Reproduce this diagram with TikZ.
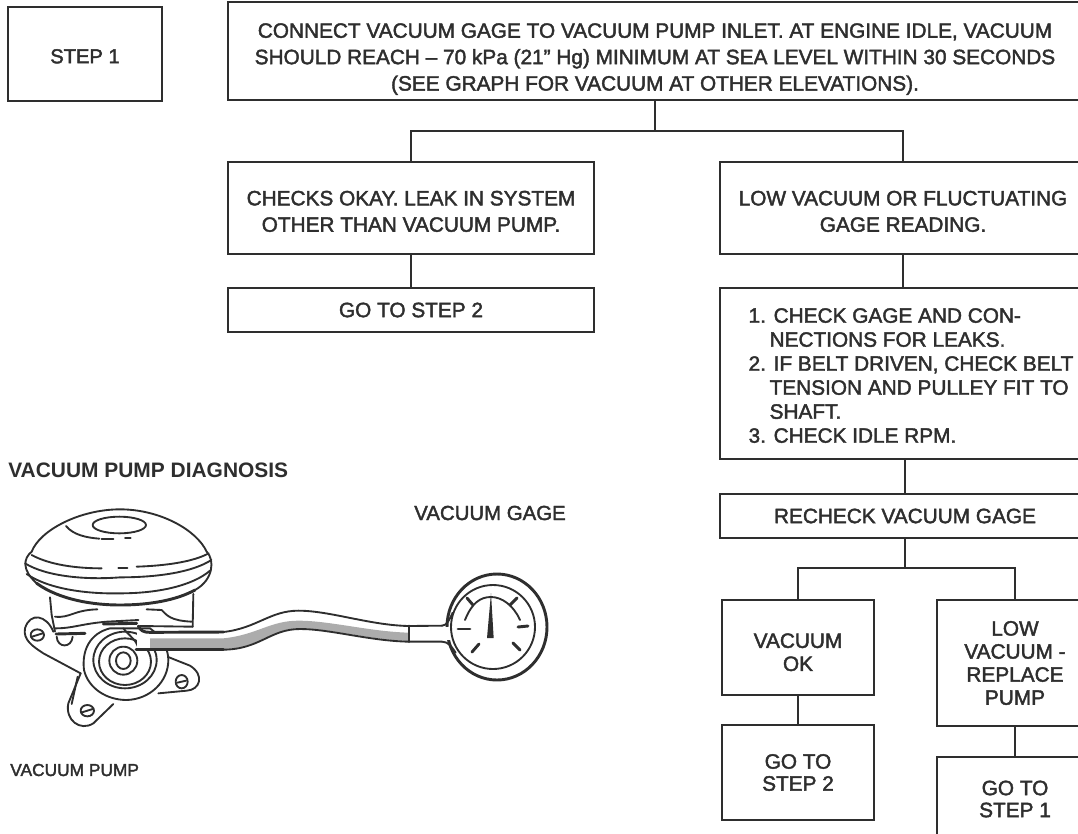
\documentclass[tikz,border=0pt]{standalone}
\usepackage{fontspec}
\setmainfont{Liberation Sans}[UprightFeatures={FakeBold=2}]
\newfontfamily\headfont{Liberation Sans Bold}
\usetikzlibrary{positioning}
\definecolor{ink}{HTML}{2E2E2E}
\tikzset{
  flowbox/.style={draw=ink, line width=2.2pt, align=center, inner sep=0pt, text=ink,
    font=\fontsize{15.6}{19.8}\selectfont},
  boxsize/.style 2 args={minimum width=#1*0.75pt, minimum height=#2*0.75pt},
  link/.style={draw=ink, line width=2.2pt},
  caption/.style={text=ink, inner sep=0pt, anchor=west, font=\fontsize{15.3}{18}\selectfont},
  pumpline/.style={draw=ink, line width=1.4pt, line cap=round, line join=round},
  pumpheavy/.style={draw=ink, line width=2.2pt, line cap=round}
}
\begin{document}
\begin{tikzpicture}[x=0.75pt, y=-0.75pt]
  \useasboundingbox (0,0) rectangle (1078,833);
  % Flow chart
  \node[flowbox, boxsize={154}{94}, font=\fontsize{15.1}{18}\selectfont] (step) at (85,54) {\rule{0pt}{14pt}STEP 1};
  \node[flowbox, boxsize={854}{98}] (inlet) at (655,51) {\rule{0pt}{23pt}CONNECT VACUUM GAGE TO VACUUM PUMP INLET. AT ENGINE IDLE, VACUUM\\
    SHOULD REACH\ -- 70 kPa (21'' Hg) MINIMUM AT SEA LEVEL WITHIN 30 SECONDS\\
    (SEE GRAPH FOR VACUUM AT OTHER ELEVATIONS).};
  \node[flowbox, boxsize={366}{92}] (okay) at (411,208) {\rule{0pt}{16pt}CHECKS OKAY. LEAK IN SYSTEM\\OTHER THAN VACUUM PUMP.};
  \node[flowbox, boxsize={366}{44}] (gotwo) at (411,310) {GO TO STEP 2};
  \node[flowbox, boxsize={366}{92}] (low) at (903,208) {\rule{0pt}{16pt}LOW VACUUM OR FLUCTUATING\\GAGE READING.};
  \node[flowbox, boxsize={370}{171}, align=left, font=\fontsize{15.6}{18}\selectfont] (checks) at (905,373.5) {\hspace*{9pt}\rule{0pt}{14pt}1. CHECK GAGE AND CON-\\
    \hspace*{24.75pt}NECTIONS FOR LEAKS.\\
    \hspace*{9pt}2. IF BELT DRIVEN, CHECK BELT\\
    \hspace*{24.75pt}TENSION AND PULLEY FIT TO\\
    \hspace*{24.75pt}SHAFT.\\
    \hspace*{9pt}3. CHECK IDLE RPM.};
  \node[flowbox, boxsize={370}{44}] (recheck) at (905,516) {RECHECK VACUUM GAGE};
  \node[flowbox, boxsize={152}{95}, font=\fontsize{15.6}{17.3}\selectfont] (vacok) at (798,647.5) {\rule{0pt}{18pt}VACUUM\\OK};
  \node[flowbox, boxsize={152}{95}, font=\fontsize{15.6}{16.5}\selectfont] (stwo) at (798,772.5) {GO TO\\STEP 2};
  \node[flowbox, boxsize={156}{126}, font=\fontsize{15.6}{17.3}\selectfont] (lowvac) at (1015,663) {LOW\\VACUUM -\\REPLACE\\PUMP};
  \node[flowbox, boxsize={156}{84}, font=\fontsize{15.6}{16.5}\selectfont] (sone) at (1015,799) {GO TO\\STEP 1};
  \coordinate (forktop) at (655,131);
  \coordinate (forklow) at (905,568);
  \draw[link] (inlet.south) -- (forktop);
  \draw[link] (okay.north) |- (forktop) -| (low.north);
  \draw[link] (okay.south) -- (gotwo.north);
  \draw[link] (low.south) -- (checks.north -| low.south);
  \draw[link] (checks.south) -- (recheck.north);
  \draw[link] (recheck.south) -- (forklow);
  \draw[link] (vacok.north) |- (forklow) -| (lowvac.north);
  \draw[link] (vacok.south) -- (stwo.north);
  \draw[link] (lowvac.south) -- (sone.north);
  % Labels
  \node[caption, font=\headfont\fontsize{15.7}{18}\selectfont] (title) at (8,470) {VACUUM PUMP DIAGNOSIS};
  \node[caption] (gagelabel) at (414,513) {VACUUM GAGE};
  \node[caption, font=\fontsize{13}{15}\selectfont] (pumplabel) at (10,770) {VACUUM PUMP};
  % Pump and gage, third-of-a-pixel units
  \begin{scope}[shift={(10,500)}, x=0.25pt, y=-0.25pt]
    % cover
    \draw[pumpline] (65,155) .. controls (90,90) and (210,28) .. (330,28) .. controls (450,28) and (560,90) .. (590,155);
    \draw[pumpline] (328,75) ellipse (80 and 25);
    \draw[pumpline] (168,78) .. controls (190,105) and (230,113) .. (268,116);
    \draw[pumpline] (275,116) -- (310,116);
    \draw[pumpline] (345,113) -- (362,113);
    \draw[pumpline] (65,155) .. controls (40,175) and (35,210) .. (80,250);
    \draw[pumpline] (590,155) .. controls (615,180) and (610,240) .. (555,270);
    \draw[pumpline] (65,165) .. controls (120,195) and (200,205) .. (275,205);
    \draw[pumpline] (325,203) -- (352,203);
    \draw[pumpline] (380,200) .. controls (470,197) and (550,185) .. (596,160);
    \draw[pumpline] (45,190) .. controls (110,230) and (230,240) .. (330,232) .. controls (450,232) and (550,215) .. (604,180);
    \draw[pumpline] (50,222) .. controls (120,270) and (240,282) .. (330,280) .. controls (450,280) and (550,255) .. (600,212);
    \draw[pumpheavy] (80,250) .. controls (150,300) and (250,315) .. (330,315) .. controls (420,315) and (500,300) .. (555,270);
    % body and flange
    \draw[pumpline] (120,292) -- (125,345) -- (135,395);
    \draw[pumpline] (550,282) -- (548,380);
    \draw[pumpline] (135,350) .. controls (180,355) and (190,330) .. (262,328);
    \draw[pumpline] (135,385) .. controls (190,385) and (210,372) .. (290,365) -- (385,360);
    \draw[pumpline] (410,328) -- (455,330) .. controls (470,345) and (480,362) .. (545,365);
    \draw[pumpheavy] (280,372) -- (380,370);
    \draw[pumpheavy] (138,402) -- (225,400);
    \draw[pumpline] (390,378) -- (548,380);
    % left ear
    \draw[pumpline] (130,395) .. controls (110,345) and (60,335) .. (45,385) .. controls (38,420) and (70,440) .. (100,460) -- (212,520);
    \draw[pumpline] (82,405) ellipse (20 and 17);
    \draw[pumpline] (66,410) -- (98,400);
    \draw[pumpline] (140,410) .. controls (142,445) and (185,445) .. (188,410);
    % bottom ear
    \draw[pumpline] (212,520) -- (175,610) .. controls (165,660) and (210,695) .. (250,670) -- (310,612);
    \draw[pumpline] (203,530) -- (185,612);
    \draw[pumpline] (232,632) ellipse (20 and 17);
    \draw[pumpline] (216,637) -- (248,627);
    % right ear
    \draw[pumpline] (472,470) -- (540,497) .. controls (585,525) and (570,570) .. (530,572) -- (445,580);
    \draw[pumpline] (515,545) ellipse (18 and 20);
    \draw[pumpline] (502,548) -- (528,542);
    % rotor housing
    \draw[pumpline, fill=white] (300,385) .. controls (240,400) and (215,450) .. (222,510) .. controls (235,565) and (290,600) .. (350,600) .. controls (420,598) and (475,545) .. (475,480) .. controls (475,445) and (455,410) .. (420,385) -- cycle;
    \draw[pumpline] (345,480) ellipse (95 and 85);
    \draw[pumpline] (345,485) ellipse (78 and 70);
    \draw[pumpline] (340,482) ellipse (42 and 42);
    \draw[pumpline] (340,482) ellipse (22 and 25);
    \draw[pumpline] (340,385) .. controls (360,410) and (380,420) .. (385,445);
    % hose
    \fill[white] (380,397) rectangle (640,449);
    \fill[gray!65] (420,415) -- (640,415) .. controls (740,405) and (780,362) .. (865,362) .. controls (960,362) and (1080,395) .. (1197,398) -- (1197,423) .. controls (1080,420) and (960,385) .. (870,385) .. controls (780,385) and (750,445) .. (640,447) -- (420,447) -- cycle;
    \draw[pumpline] (640,396) .. controls (740,385) and (780,332) .. (865,332) .. controls (960,332) and (1080,376) .. (1197,378) -- (1296,377);
    \draw[pumpline] (640,449) .. controls (750,448) and (780,387) .. (870,387) .. controls (960,387) and (1080,423) .. (1197,425) -- (1296,425);
    \draw[pumpheavy] (1197,378) -- (1197,425);
    \draw[pumpheavy] (385,378) .. controls (392,392) and (400,397) .. (420,397) -- (640,396);
    \draw[pumpheavy] (378,449) -- (640,449);
    % gage
    \draw[pumpheavy] (1461,381) ellipse (150 and 159);
    \fill[white] (1300,381) rectangle (1322,421);
    \draw[pumpline] (1296,377) .. controls (1310,377) and (1318,360) .. (1328,338);
    \draw[pumpline] (1296,425) .. controls (1315,425) and (1325,440) .. (1337,458);
    \draw[pumpline] (1449,381) circle (126);
    \draw[pumpline] (1365,360) .. controls (1385,310) and (1410,291) .. (1443,291) .. controls (1475,291) and (1510,315) .. (1530,360);
    \fill[ink] (1443,279) -- (1451,414) -- (1431,414) -- cycle;
    \draw[pumpheavy] (1344,387) -- (1380,387);
    \draw[pumpheavy] (1524,381) -- (1554,378);
    \draw[pumpheavy] (1371,294) -- (1389,315);
    \draw[pumpheavy] (1521,294) -- (1500,315);
    \draw[pumpheavy] (1386,456) -- (1407,432);
    \draw[pumpheavy] (1530,450) -- (1509,429);
  \end{scope}
\end{tikzpicture}
\end{document}
